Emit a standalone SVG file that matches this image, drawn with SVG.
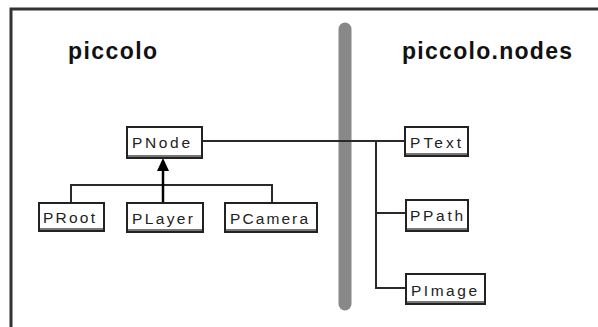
<svg xmlns="http://www.w3.org/2000/svg" width="598" height="327" viewBox="0 0 598 327">
<defs>
<style>
.title{font-family:"Liberation Sans",Arial,sans-serif;font-weight:bold;font-size:23px;fill:#111}
.lbl{font-family:"Liberation Sans",Arial,sans-serif;font-size:15.5px;fill:#222}
.box{fill:#fff;stroke:#222;stroke-width:2}
.shadow{stroke:#777;stroke-width:2}
.conn{fill:none;stroke:#2a2a2a;stroke-width:2}
.head{fill:#000}
</style>
</defs>
<rect x="0" y="0" width="598" height="327" fill="#fff"/>
<g id="frame">
<path d="M11,327 V9 H598" fill="none" stroke="#333" stroke-width="3"/>
</g>
<g id="divider">
<line x1="345" y1="29" x2="345" y2="304" stroke="#888" stroke-width="13" stroke-linecap="round"/>
</g>
<text class="title" x="68" y="59" textLength="89" lengthAdjust="spacing">piccolo</text>
<text class="title" x="402" y="59" textLength="170" lengthAdjust="spacing">piccolo.nodes</text>
<g id="connectors">
<path class="conn" d="M202,141 H376 V288 H406"/>
<path class="conn" stroke-width="1.5" d="M376,141 H405 M376,213 H406"/>
<path class="conn" stroke="#444" stroke-width="3" d="M71,202 V185 H272 V202"/>
<line x1="163" y1="202" x2="163" y2="168" stroke="#000" stroke-width="2.5"/>
<polygon class="head" points="163,158 157,171 169,171"/>
</g>
<g id="PNode">
<rect class="box" x="127" y="127" width="75" height="31"/>
<line class="shadow" x1="128" y1="156" x2="201" y2="156"/>
<text class="lbl" x="132" y="148" textLength="58" lengthAdjust="spacing">PNode</text>
</g>
<g id="PRoot">
<rect class="box" x="39" y="203" width="65" height="28"/>
<line class="shadow" x1="40" y1="229" x2="103" y2="229"/>
<text class="lbl" x="43" y="223" textLength="52" lengthAdjust="spacing">PRoot</text>
</g>
<g id="PLayer">
<rect class="box" x="127" y="203" width="76" height="29"/>
<line class="shadow" x1="128" y1="230" x2="202" y2="230"/>
<text class="lbl" x="132" y="224" textLength="61" lengthAdjust="spacing">PLayer</text>
</g>
<g id="PCamera">
<rect class="box" x="225" y="203" width="92" height="29"/>
<line class="shadow" x1="226" y1="230" x2="316" y2="230"/>
<text class="lbl" x="230" y="224" textLength="78" lengthAdjust="spacing">PCamera</text>
</g>
<g id="PText">
<rect class="box" x="405" y="127" width="63" height="29"/>
<line class="shadow" x1="406" y1="154" x2="467" y2="154"/>
<text class="lbl" x="410" y="148" textLength="51" lengthAdjust="spacing">PText</text>
</g>
<g id="PPath">
<rect class="box" x="406" y="200" width="62" height="31"/>
<line class="shadow" x1="407" y1="229" x2="467" y2="229"/>
<text class="lbl" x="410" y="221" textLength="53" lengthAdjust="spacing">PPath</text>
</g>
<g id="PImage">
<rect class="box" x="406" y="274" width="79" height="30"/>
<line class="shadow" x1="407" y1="302" x2="484" y2="302"/>
<text class="lbl" x="411" y="296" textLength="66" lengthAdjust="spacing">PImage</text>
</g>
</svg>
